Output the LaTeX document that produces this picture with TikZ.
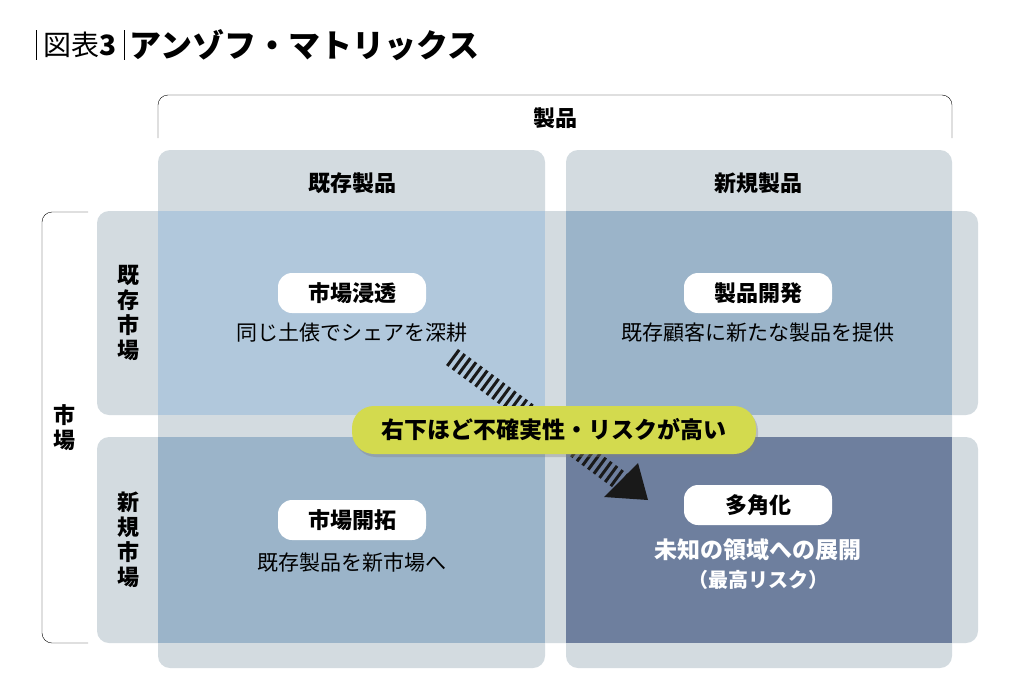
\documentclass[tikz,border=0pt]{standalone}
\usepackage{fontspec}
\setmainfont{Noto Sans CJK JP}
\usetikzlibrary{shadows,arrows.meta}
\definecolor{bandgrey}{HTML}{D3DBE0}
\definecolor{qtl}{HTML}{B1C8DC}
\definecolor{qmid}{HTML}{9BB4C9}
\definecolor{qbr}{HTML}{6E7F9E}
\definecolor{pillyellow}{HTML}{D3DA4E}
\tikzset{
  band/.style={fill=bandgrey,rounded corners=12pt},
  pill/.style={fill=white,rounded corners=14pt,minimum width=148pt,minimum height=40pt,font=\fontsize{22}{24}\selectfont\bfseries},
  sub/.style={font=\fontsize{21}{24}\selectfont},
  vert/.style={align=center,font=\fontsize{22}{25}\selectfont\bfseries},
}
\begin{document}
\begin{tikzpicture}[x=1pt,y=-1pt]
  \useasboundingbox (0,0) rectangle (1030,696);
  % title
  \node[anchor=west,font=\fontsize{28}{30}\selectfont] (fig) at (40,45) {図表\textbf{3}};
  \draw (36,30) -- (36,60);
  \draw (124,30) -- (124,60);
  \node[anchor=west,font=\fontsize{32}{34}\selectfont\bfseries] (title) at (126,45) {アンゾフ・マトリックス};
  % bands
  \fill[band] (158,150) rectangle (545,668);
  \fill[band] (566,150) rectangle (952,668);
  \fill[band] (97,211) rectangle (978,415);
  \fill[band] (97,437) rectangle (978,643);
  % quadrants
  \fill[qtl] (158,211) rectangle (545,415);
  \fill[qmid] (566,211) rectangle (952,415);
  \fill[qmid] (158,437) rectangle (545,643);
  \fill[qbr] (566,437) rectangle (952,643);
  % brackets
  \draw[rounded corners=10pt] (158,138) -- (158,95) -- (952,95) -- (952,138);
  \node[font=\fontsize{22}{24}\selectfont\bfseries] (prod) at (555,118) {製品};
  \draw[rounded corners=10pt] (88,212) -- (42,212) -- (42,643) -- (88,643);
  \node[vert] (mkt) at (64,428) {市\\場};
  % headers
  \node[font=\fontsize{22}{24}\selectfont\bfseries] (colA) at (352,183) {既存製品};
  \node[font=\fontsize{22}{24}\selectfont\bfseries] (colB) at (758,183) {新規製品};
  \node[vert] (rowA) at (128,313) {既\\存\\市\\場};
  \node[vert] (rowB) at (128,540) {新\\規\\市\\場};
  % quadrant contents
  \node[pill] (pen) at (352,293) {市場浸透};
  \node[sub] (penT) at (352,333) {同じ土俵でシェアを深耕};
  \node[pill] (dev) at (758,293) {製品開発};
  \node[sub] (devT) at (758,333) {既存顧客に新たな製品を提供};
  \node[pill] (mkd) at (352,520) {市場開拓};
  \node[sub] (mkdT) at (352,563) {既存製品を新市場へ};
  \node[pill] (div) at (758,505) {多角化};
  \node[font=\fontsize{23}{26}\selectfont\bfseries,text=white] (divT) at (758,550) {未知の領域への展開};
  \node[font=\fontsize{20}{24}\selectfont\bfseries,text=white] (divR) at (758,580) {（最高リスク）};
  % arrow
  \coordinate (aS) at (452,357);
  \coordinate (aE) at (622,482);
  \draw[line width=20pt,dash pattern=on 3pt off 4pt,color=black!90] (aS) -- (aE);
  \fill[black!90] (648,500) -- (604,497) -- (638,463) -- cycle;
  % risk label
  \node[fill=pillyellow,rounded corners=22pt,minimum width=404pt,minimum height=48pt,
        drop shadow={opacity=0.35,shadow xshift=2pt,shadow yshift=-3pt},
        font=\fontsize{23}{26}\selectfont\bfseries] (risk) at (554,430) {右下ほど不確実性・リスクが高い};
\end{tikzpicture}
\end{document}
